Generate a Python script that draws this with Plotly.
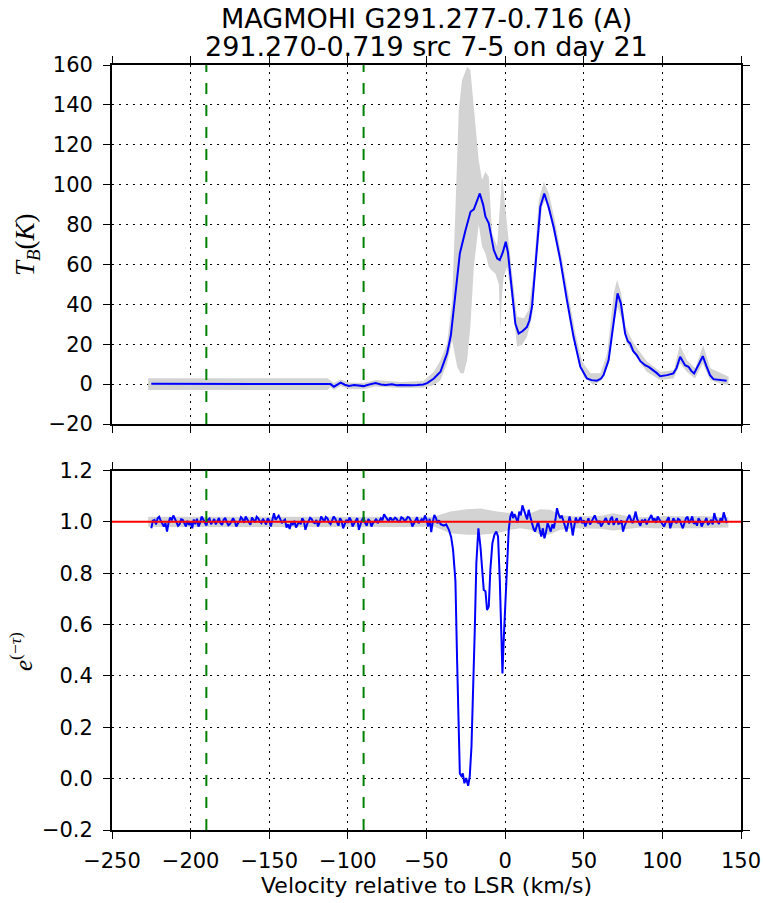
import plotly.graph_objects as go

# ---------------- DATA ----------------
title_line1 = "MAGMOHI G291.277-0.716 (A)"
title_line2 = "291.270-0.719 src 7-5 on day 21"
x_title = "Velocity relative to LSR (km/s)"
y1_title = "<i>T</i><sub><i>B</i></sub>(<i>K</i>)"
y2_title = "<i>e</i><sup>(−<i>τ</i>)</sup>"

marker_vel = [-190, -90]          # green dashed velocity markers
continuum_level = 1.0             # red reference line

# emission spectrum (top)
em_v = [-225, -115, -111, -108.9, -106, -104.6, -102, -99.3, -96, -93, -90, -87, -84, -82.4,
        -79, -76, -72, -69, -66.5, -63, -59, -56, -52, -49.6, -45.3, -41.1, -36.9, -34.5,
        -32.6, -30.5, -28.8, -25.2, -22, -19.9, -16.1, -14, -12.5, -10.4, -8.5, -7.2, -5,
        -3.4, -1.5, 0.4, 1.8, 3.3, 5, 6.5, 8.6, 11, 13.9, 15.5, 17.1, 18.5, 20.3, 22.4, 24.9,
        27.6, 30.8, 35.1, 39.3, 43.5, 47.8, 52, 55, 58.4, 61, 62.6, 65.8, 69, 71.5, 73.6,
        76.3, 78, 79.5, 81.5, 83.7, 86, 89, 91.5, 94.3, 96.5, 98.6, 103, 107, 109, 111.3,
        113, 114.4, 116.6, 118.5, 120.2, 123, 125.7, 128, 130.3, 132.5, 134.6, 137, 140.9]
em_T = [0.2, 0.2, 0.0, -1.3, 0.3, 0.7, -0.3, -0.9, -0.5, -0.6, -1.0, -0.3, 0.2, 0.5,
        -0.2, -0.4, -0.1, -0.6, -0.5, -0.7, -0.6, -0.5, -0.2, 0.5, 2.8, 6.2, 15.4, 24.5,
        38.8, 54.0, 65.5, 77.2, 86.4, 87.6, 95.6, 90.0, 83.9, 80.6, 72.0, 67.2, 63.0,
        62.2, 66.0, 71.4, 66.0, 55.5, 42.0, 30.4, 25.4, 26.5, 28.7, 32.0, 38.8, 52.0, 68.9, 88.9, 95.6,
        88.9, 78.9, 62.2, 42.1, 23.7, 8.7, 2.8, 2.0, 1.7, 2.8, 4.5, 12.0, 32.0, 45.5, 40.5,
        25.4, 21.5, 20.4, 16.5, 14.5, 11.5, 9.5, 8.5, 7.0, 5.5, 4.0, 4.5, 5.4, 8.0, 13.7,
        11.0, 9.5, 8.7, 6.5, 5.4, 9.5, 14.0, 9.0, 4.5, 2.5, 2.3, 2.4, 1.7]

# emission uncertainty envelope (top)
em_up_v = [-227, -113, -111, -108.9, -104.6, -99.3, -90, -82.4, -66.5, -52,
           -45.3, -41.1, -36.9, -33.7, -31.6, -29.5, -27.4, -24.2, -22.1, -19.5, -16.8, -14.7,
           -12.6, -10.4, -8.3, -5.1, -1.9, -0.4, 1.3, 4.4, 7.6, 11.9, 15, 18.2, 21.4, 24.6,
           27.8, 32, 36.3, 40.5, 44.7, 49, 54.3, 60.6, 64.9, 69.1, 71.2, 73.8, 76.5, 81.8,
           90.3, 98.8, 107.3, 111.1, 115.7, 121, 125.9, 130.5, 136.9, 142.2]
em_up_T = [3.0, 3.0, 1.8, 0.5, 2.3, 0.8, 0.6, 2.0, 1.0, 1.5,
           6.2, 12.0, 20.4, 42.1, 87.3, 137.0, 152.4, 159.0, 157.5, 137.0, 112.3, 102.3,
           106.5, 104.0, 75.6, 69.0, 104.8, 92.3, 79.0, 55.5, 33.8, 33.0, 37.2, 57.2, 92.3, 101.5,
           95.7, 80.6, 62.2, 43.8, 25.4, 11.2, 5.4, 5.4, 15.4, 45.5, 52.2, 45.5, 28.8, 20.4,
           11.2, 6.2, 7.0, 19.5, 12.0, 7.9, 19.5, 7.9, 5.4, 3.7]
em_lo_v = [-227, -113, -111, -108.9, -104.6, -99.3, -90, -82.4, -66.5, -52,
           -45.3, -41.1, -36.9, -33.7, -32.6, -30.5, -28.4, -26.3, -24.2, -22.1, -19.9, -16.8,
           -14.6, -12.5, -10.4, -8.9, -6.2, -4, -3.0, -2, -0.9, 1.2, 4.4, 7.6, 10.7, 13.9,
           17.1, 20.3, 23.4, 25.6, 28.7, 33.0, 37.2, 41.4, 45.7, 49.9, 56.2, 61.5, 65.8, 69.0,
           71.5, 74.2, 77.4, 81.7, 90.1, 98.6, 107.1, 111.3, 115.5, 120.8, 125.7, 130.3, 136.7, 141.9]
em_lo_T = [-3.0, -3.0, -1.5, -3.0, -1.0, -2.5, -2.6, -1.2, -2.0, -1.8,
           -0.5, 2.0, 10.4, 22.0, 18.7, 8.7, 5.4, 5.4, 12.0, 28.7, 58.8, 80.0,
           68.9, 65.5, 58.8, 57.2, 55.5, 50.0, 27.1, 45.0, 53.8, 58.8, 42.1, 18.7, 19.6, 23.7,
           33.8, 62.2, 88.9, 92.3, 83.9, 68.9, 53.8, 33.8, 15.4, 3.7, -0.5, 2.0, 10.4, 28.7,
           38.8, 32.1, 20.4, 15.4, 6.2, 2.0, 2.8, 10.4, 6.2, 2.8, 10.4, 2.0, 0.3, -0.5]

# absorption spectrum (bottom): noisy continuum left, absorption features, noisy continuum right
abs_v_left = list(range(-225, -40))          # 1 km/s channels
abs_e_left = [
    0.975, 1.005, 1.008, 0.990, 1.014, 1.020, 1.004, 0.993, 0.982, 0.995,
    0.962, 0.998, 1.017, 1.006, 1.025, 1.012, 1.001, 0.985, 0.991, 1.010,
    1.008, 0.996, 0.982, 1.004, 0.988, 0.998, 0.975, 1.009, 0.991, 1.012,
    0.982, 0.996, 1.021, 1.010, 0.999, 0.986, 1.008, 1.013, 0.991, 1.000,
    1.011, 0.990, 1.001, 1.015, 0.995, 0.988, 1.008, 1.016, 0.999, 0.987,
    0.991, 1.004, 1.014, 1.003, 0.982, 0.993, 1.001, 1.018, 1.011, 0.996,
    1.021, 1.010, 1.001, 0.989, 1.017, 1.005, 0.999, 1.020, 1.014, 1.002,
    0.995, 1.012, 1.001, 0.990, 1.014, 1.006, 0.982, 1.005, 1.034, 1.008,
    1.017, 1.024, 1.011, 0.995, 1.004, 1.009, 0.978, 0.990, 0.972, 0.997,
    0.988, 1.004, 0.978, 0.992, 1.001, 0.991, 1.014, 1.003, 0.969, 0.990,
    1.001, 1.016, 1.011, 0.998, 0.995, 1.007, 0.982, 0.997, 1.021, 1.010,
    1.001, 1.019, 1.014, 0.998, 0.991, 1.006, 1.021, 1.012, 0.999, 0.985,
    1.014, 1.004, 0.975, 0.992, 1.008, 0.996, 1.017, 1.006, 0.982, 0.994,
    1.004, 1.015, 0.969, 0.990, 1.008, 1.018, 0.995, 0.985, 1.011, 1.003,
    0.982, 0.996, 1.001, 1.012, 0.995, 1.004, 1.014, 1.006, 1.030, 1.020,
    1.011, 1.002, 1.017, 1.008, 1.008, 1.016, 1.011, 1.001, 1.001, 1.018,
    1.014, 1.004, 1.008, 1.019, 1.017, 1.005, 0.982, 0.996, 1.008, 1.018,
    0.995, 1.006, 1.011, 1.003, 1.025, 1.010, 0.982, 1.012, 0.960, 1.000,
    1.027, 1.015, 0.995, 1.006, 0.991]
abs_v_mid = [-39.0, -37.5, -35.8, -34.3, -33.1, -31.6, -30.5, -29.5, -28.8, -27.8, -26.9,
             -25.9, -24.8, -23.5, -22.5, -21.4, -20.4, -19.3, -18.3, -17.0, -15.7, -14.7,
             -13.6, -12.5, -11.5, -10.4, -9.4, -8.1, -6.8, -5.6, -4.5, -3.4, -2.4, -1.7,
             -0.9, 0.2, 1.2, 2.3, 3.3, 4.4]
abs_e_mid = [0.985, 0.99, 0.97, 0.94, 0.89, 0.77, 0.45, 0.124, 0.02, 0.01, 0.02,
             -0.018, 0.002, -0.028, 0.009, 0.124, 0.32, 0.58, 0.84, 0.975, 0.904, 0.826,
             0.735, 0.73, 0.657, 0.67, 0.813, 0.917, 0.95, 0.962, 0.943, 0.774, 0.54, 0.41,
             0.54, 0.71, 0.84, 0.97, 1.02, 1.04]
abs_v_right = list(range(5, 142))            # 1 km/s channels
abs_e_right = [
    1.015, 1.030, 1.014, 0.998, 1.040, 1.025, 1.064, 1.040, 1.027, 1.010,
    1.047, 1.020, 0.995, 0.975, 0.962, 0.985, 1.001, 0.970, 0.943, 0.975,
    0.936, 0.960, 0.995, 0.980, 0.962, 0.990, 0.975, 1.010, 1.053, 1.030,
    1.014, 1.025, 1.008, 0.985, 0.962, 0.995, 1.021, 0.990, 0.947, 0.985,
    1.017, 0.996, 1.008, 1.018, 0.995, 1.006, 0.982, 0.995, 1.014, 0.990,
    1.001, 1.010, 1.025, 1.008, 0.995, 1.004, 0.982, 0.993, 1.004, 1.015,
    1.001, 0.990, 1.011, 1.020, 0.988, 1.000, 1.014, 0.992, 0.995, 1.006,
    0.962, 0.985, 1.001, 1.012, 1.027, 1.008, 0.995, 1.015, 1.040, 1.010,
    0.995, 0.985, 1.008, 0.997, 1.011, 0.990, 1.004, 1.016, 1.027, 1.005,
    1.014, 0.996, 1.021, 1.010, 1.001, 0.990, 0.982, 0.996, 1.008, 1.018,
    0.975, 0.992, 1.014, 1.003, 0.995, 1.012, 1.008, 0.990, 0.975, 0.995,
    1.014, 1.020, 0.995, 1.006, 1.021, 0.992, 1.001, 0.985, 1.014, 1.004,
    0.982, 0.996, 1.001, 1.015, 0.988, 0.997, 1.008, 0.990, 1.034, 1.012,
    1.001, 0.992, 1.014, 1.002, 1.037, 1.010, 0.995]

# absorption uncertainty envelope (bottom)
abs_band_v = [-227, -60, -45.3, -34.8, -24.2, -15.7, -5.1, 3.3, 9.7, 16.0, 22.4, 28.7,
              35.1, 43.5, 52.0, 60.5, 68.9, 77.4, 85.9, 94.3, 102.8, 113.4, 124.0, 142]
abs_band_up = [1.02, 1.02, 1.02, 1.04, 1.049, 1.052, 1.04, 1.034, 1.023, 1.034, 1.049, 1.047,
               1.027, 1.021, 1.021, 1.023, 1.034, 1.023, 1.018, 1.021, 1.023, 1.021, 1.023, 1.018]
abs_band_lo = [0.98, 0.98, 0.982, 0.956, 0.95, 0.95, 0.956, 0.969, 0.975, 0.969, 0.95, 0.952,
               0.969, 0.975, 0.975, 0.973, 0.966, 0.973, 0.978, 0.975, 0.975, 0.975, 0.975, 0.978]

# ---------------- FIGURE ----------------
abs_v = abs_v_left + abs_v_mid + abs_v_right
abs_e = abs_e_left + abs_e_mid + abs_e_right

GRAY = "#d3d3d3"
fig = go.Figure()

fig.add_trace(go.Scatter(x=em_up_v + em_lo_v[::-1], y=em_up_T + em_lo_T[::-1],
                         fill="toself", fillcolor=GRAY, line=dict(width=0),
                         mode="lines", hoverinfo="skip", xaxis="x", yaxis="y"))
fig.add_trace(go.Scatter(x=em_v, y=em_T, mode="lines",
                         line=dict(color="#0000ff", width=2), xaxis="x", yaxis="y"))
fig.add_trace(go.Scatter(x=abs_band_v + abs_band_v[::-1], y=abs_band_up + abs_band_lo[::-1],
                         fill="toself", fillcolor=GRAY, line=dict(width=0),
                         mode="lines", hoverinfo="skip", xaxis="x2", yaxis="y2"))
fig.add_trace(go.Scatter(x=abs_v, y=abs_e, mode="lines",
                         line=dict(color="#0000ff", width=2), xaxis="x2", yaxis="y2"))

# reference lines
fig.add_shape(type="line", xref="x2 domain", yref="y2", x0=0, x1=1,
              y0=continuum_level, y1=continuum_level,
              line=dict(color="#ff0000", width=2), layer="above")
for v in marker_vel:
    for xr, yr in (("x", "y domain"), ("x2", "y2 domain")):
        fig.add_shape(type="line", xref=xr, yref=yr, x0=v, x1=v, y0=0, y1=1,
                      line=dict(color="#008000", width=2, dash="11px,11px"), layer="above")

tickfont = dict(family="DejaVu Sans", size=21, color="black")
common = dict(showline=True, linecolor="black", linewidth=1.8, mirror="allticks",
              ticks="outside", ticklen=7, tickwidth=1.2, tickcolor="black",
              showgrid=True, gridcolor="black", gridwidth=1, griddash="2px,5px",
              zeroline=False, tickfont=tickfont, automargin=False)

W, H = 763, 903
ml, mr, mt, mb = 112, 22, 65, 73
ph = H - mt - mb
pw = W - ml - mr
top_lo = (830 - 424) / ph
bot_hi = (830 - 470.5) / ph

fig.update_layout(
    width=W, height=H,
    margin=dict(l=ml, r=mr, t=mt, b=mb, autoexpand=False),
    paper_bgcolor="white", plot_bgcolor="white",
    showlegend=False,
    xaxis=dict(common, range=[-250, 150], dtick=50, tick0=0, showticklabels=False,
               anchor="y", domain=[0, 1]),
    yaxis=dict(common, range=[-20, 160], dtick=20, tick0=0, domain=[top_lo, 1],
               anchor="x", ticklabelstandoff=6),
    xaxis2=dict(common, range=[-250, 150], dtick=50, tick0=0, anchor="y2",
                domain=[0, 1], ticklabelstandoff=4),
    yaxis2=dict(common, range=[-0.2, 1.2], dtick=0.2, tick0=0, tickformat=".1f",
                domain=[0, bot_hi], anchor="x2", ticklabelstandoff=6),
)

ann_font = dict(family="DejaVu Sans", size=27, color="black")
fig.add_annotation(text=title_line1, xref="paper", yref="paper", x=0.5, y=1 + (65 - 18) / ph,
                   showarrow=False, font=ann_font, xanchor="center", yanchor="middle")
fig.add_annotation(text=title_line2, xref="paper", yref="paper", x=0.5, y=1 + (65 - 46) / ph,
                   showarrow=False, font=ann_font, xanchor="center", yanchor="middle")
fig.add_annotation(text=x_title, xref="paper", yref="paper", x=0.5, y=-(885 - 830) / ph,
                   showarrow=False, font=dict(family="DejaVu Sans", size=22, color="black"),
                   xanchor="center", yanchor="middle")
fig.add_annotation(text=y1_title, xref="paper", yref="paper", x=(27 - ml) / pw,
                   y=(830 - 245) / ph, textangle=-90, showarrow=False,
                   font=dict(family="Liberation Serif", size=27, color="black"),
                   xanchor="center", yanchor="middle")
fig.add_annotation(text=y2_title, xref="paper", yref="paper", x=(21 - ml) / pw,
                   y=(830 - 652) / ph, textangle=-90, showarrow=False,
                   font=dict(family="Liberation Serif", size=25, color="black"),
                   xanchor="center", yanchor="middle")

# remove the browser's default 8px body margin so the figure fills the window exactly
fig.write_html("out.html", config={"displayModeBar": False},
               post_script="document.body.style.margin='0';")
